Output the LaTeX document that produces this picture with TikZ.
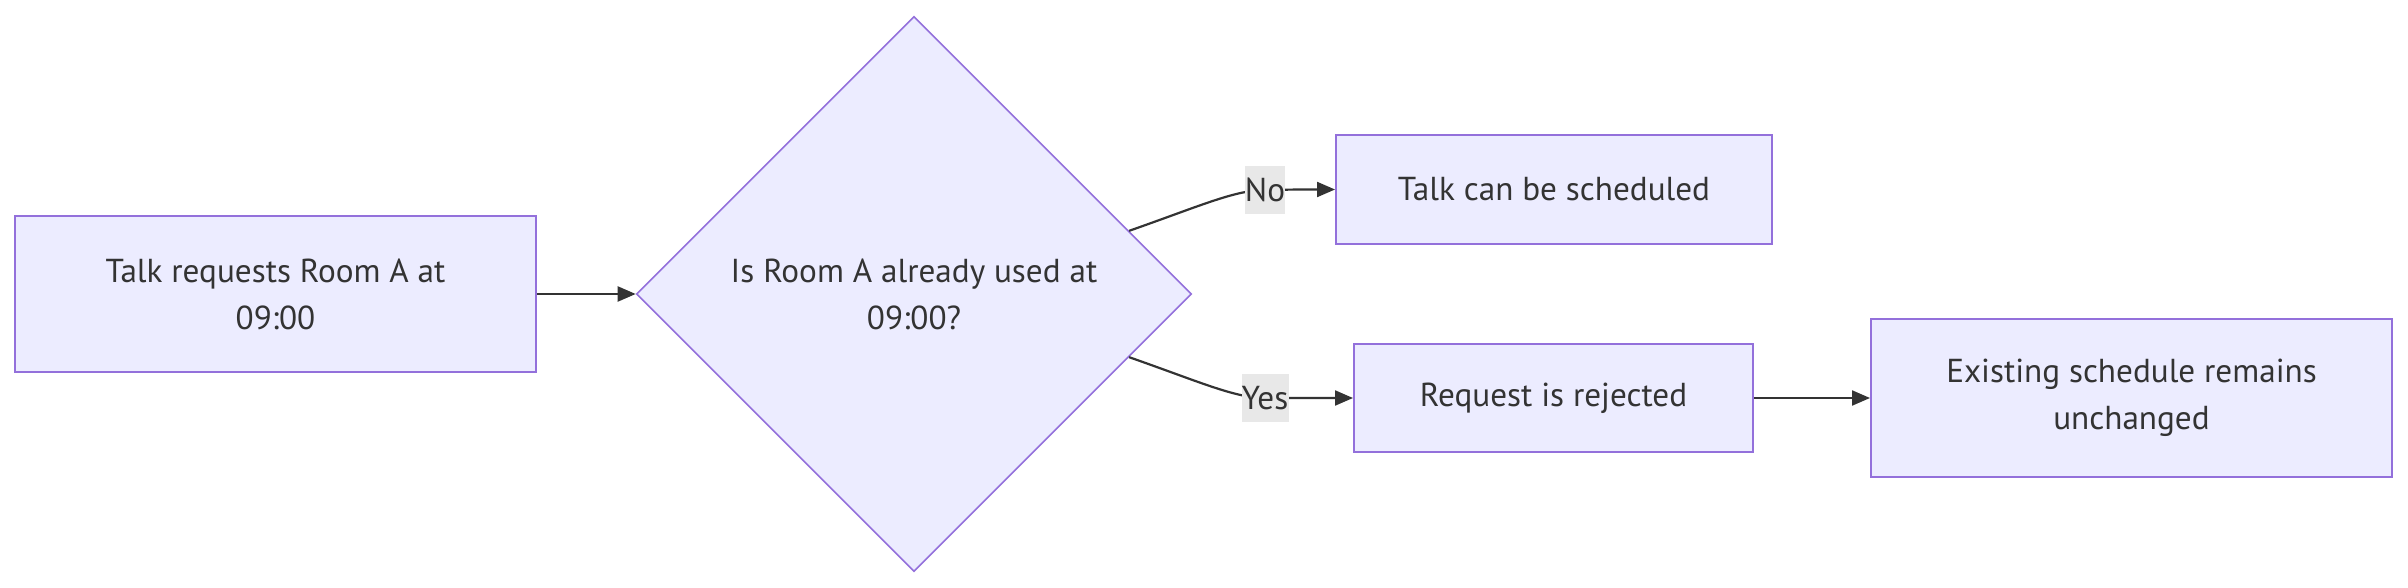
\documentclass[tikz,border=0pt]{standalone}
\usepackage{fontspec}
\setmainfont{PT Sans}
\usetikzlibrary{shapes.geometric,arrows.meta,calc}
\definecolor{nodefill}{HTML}{ECECFF}
\definecolor{nodeline}{HTML}{9370DB}
\definecolor{edgecol}{HTML}{333333}
\definecolor{txtcol}{HTML}{333333}
\definecolor{lblbg}{HTML}{E8E8E8}
\tikzset{
  box/.style={draw=nodeline, fill=nodefill, line width=1pt, inner sep=0pt, align=center,
    text=txtcol, font=\fontsize{16.6pt}{23.5pt}\selectfont},
  decision/.style={diamond, aspect=1, draw=nodeline, fill=nodefill, line width=0.8pt, inner sep=0pt,
    align=center, text=txtcol, font=\fontsize{16.6pt}{23.5pt}\selectfont},
  edge/.style={draw=edgecol, line width=1.1pt, -{Triangle[length=9pt,width=7.5pt]}},
  lbl/.style={fill=lblbg, inner sep=0pt, text=txtcol, font=\fontsize{16.6pt}{23.5pt}\selectfont}
}
\begin{document}
\begin{tikzpicture}[x=0.5pt,y=-0.5pt]
\useasboundingbox (0,0) rectangle (2408,588);
\node[box, minimum width=260.5pt, minimum height=77.5pt] (A) at (275.5,294) {Talk requests Room A at\\09:00};
\node[decision, minimum width=277.5pt, minimum height=277.5pt] (D) at (914,294) {Is Room A already used at\\09:00?};
\node[box, minimum width=218pt, minimum height=54.5pt] (N) at (1554,189.5) {Talk can be scheduled};
\node[box, minimum width=199.5pt, minimum height=54pt] (R) at (1553.5,398) {Request is rejected};
\node[box, minimum width=260.5pt, minimum height=79pt] (E) at (2131.5,398) {Existing schedule remains\\unchanged};
\coordinate (S1) at ($(D.east)!0.227!(D.north)$);
\coordinate (S2) at ($(D.east)!0.227!(D.south)$);
\draw[edge] (A.east) -- (D.west);
\draw[edge] (S1) .. controls (1200,206) and (1235,190) .. (1265,190)
  node[lbl, minimum width=19pt, minimum height=24pt] (lno) {No} .. controls (1290,189.5) and (1310,189.5) .. (N.west);
\draw[edge] (S2) .. controls (1200,382) and (1235,398) .. (1265,398)
  node[lbl, minimum width=23.5pt, minimum height=24pt] (lyes) {Yes} .. controls (1290,398) and (1320,398) .. (R.west);
\draw[edge] (R.east) -- (E.west);
\end{tikzpicture}
\end{document}
